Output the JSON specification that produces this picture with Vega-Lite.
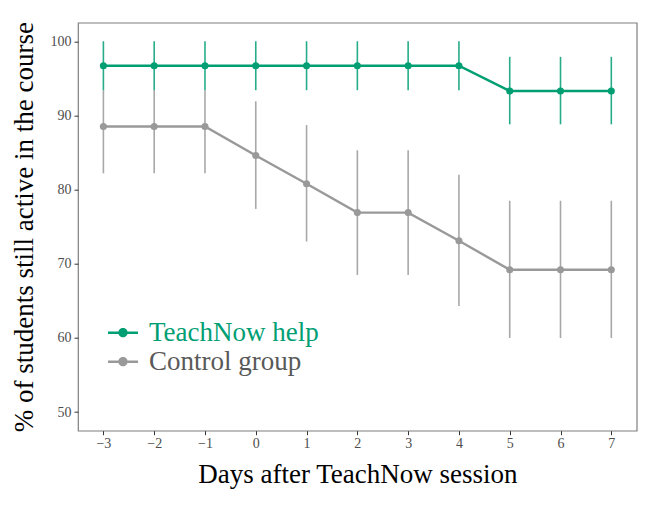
{
  "$schema": "https://vega.github.io/schema/vega-lite/v6.json",
  "width": 558.7,
  "height": 408,
  "autosize": {"type": "none"},
  "padding": {"left": 78, "top": 22.7, "right": 11.3, "bottom": 76.3},
  "background": "white",
  "config": {
    "view": {"stroke": "#7f7f7f", "strokeWidth": 1.2},
    "font": "Liberation Serif"
  },
  "data": {
    "values": [
      {"day": -3, "group": "Control group", "value": 88.5, "lo": 82.2, "hi": 93.4},
      {"day": -2, "group": "Control group", "value": 88.5, "lo": 82.2, "hi": 93.4},
      {"day": -1, "group": "Control group", "value": 88.5, "lo": 82.2, "hi": 93.4},
      {"day": 0, "group": "Control group", "value": 84.6, "lo": 77.4, "hi": 91.9},
      {"day": 1, "group": "Control group", "value": 80.8, "lo": 73.0, "hi": 88.7},
      {"day": 2, "group": "Control group", "value": 76.9, "lo": 68.5, "hi": 85.3},
      {"day": 3, "group": "Control group", "value": 76.9, "lo": 68.5, "hi": 85.3},
      {"day": 4, "group": "Control group", "value": 73.1, "lo": 64.3, "hi": 82.0},
      {"day": 5, "group": "Control group", "value": 69.2, "lo": 60.0, "hi": 78.5},
      {"day": 6, "group": "Control group", "value": 69.2, "lo": 60.0, "hi": 78.5},
      {"day": 7, "group": "Control group", "value": 69.2, "lo": 60.0, "hi": 78.5},
      {"day": -3, "group": "TeachNow help", "value": 96.7, "lo": 93.4, "hi": 100},
      {"day": -2, "group": "TeachNow help", "value": 96.7, "lo": 93.4, "hi": 100},
      {"day": -1, "group": "TeachNow help", "value": 96.7, "lo": 93.4, "hi": 100},
      {"day": 0, "group": "TeachNow help", "value": 96.7, "lo": 93.4, "hi": 100},
      {"day": 1, "group": "TeachNow help", "value": 96.7, "lo": 93.4, "hi": 100},
      {"day": 2, "group": "TeachNow help", "value": 96.7, "lo": 93.4, "hi": 100},
      {"day": 3, "group": "TeachNow help", "value": 96.7, "lo": 93.4, "hi": 100},
      {"day": 4, "group": "TeachNow help", "value": 96.7, "lo": 93.4, "hi": 100},
      {"day": 5, "group": "TeachNow help", "value": 93.3, "lo": 88.8, "hi": 97.9},
      {"day": 6, "group": "TeachNow help", "value": 93.3, "lo": 88.8, "hi": 97.9},
      {"day": 7, "group": "TeachNow help", "value": 93.3, "lo": 88.8, "hi": 97.9}
    ]
  },
  "encoding": {
    "x": {
      "field": "day",
      "type": "quantitative",
      "scale": {"domain": [-3.5, 7.5], "nice": false, "zero": false},
      "axis": {
        "values": [-3, -2, -1, 0, 1, 2, 3, 4, 5, 6, 7],
        "title": "Days after TeachNow session",
        "grid": false,
        "domain": false,
        "tickColor": "#333333",
        "tickSize": 4,
        "tickWidth": 1,
        "labelFont": "Liberation Serif",
        "labelFontSize": 14,
        "labelColor": "#4d4d4d",
        "labelPadding": 2,
        "titleFont": "Liberation Serif",
        "titleFontSize": 27,
        "titleFontWeight": "normal",
        "titleColor": "black",
        "titlePadding": 11
      }
    },
    "color": {
      "field": "group",
      "type": "nominal",
      "scale": {"domain": ["TeachNow help", "Control group"], "range": ["#009E73", "#999999"]},
      "legend": {
        "title": null,
        "orient": "none",
        "legendX": 30,
        "legendY": 295,
        "padding": 0,
        "rowPadding": 1,
        "symbolType": "M-1,-0.085H1V0.085H-1Z M0.31,0A0.31,0.31 0 1,1 -0.31,0A0.31,0.31 0 1,1 0.31,0Z",
        "symbolSize": 900,
        "symbolStrokeWidth": 0,
        "labelFont": "Liberation Serif",
        "labelFontSize": 27,
        "labelLimit": 0,
        "labelOffset": 11,
        "encode": {
          "symbols": {"update": {"fill": {"scale": "color", "field": "value"}, "strokeWidth": {"value": 0}, "opacity": {"value": 1}}},
          "labels": {"update": {"fill": {"signal": "datum.value === 'TeachNow help' ? '#009E73' : '#595959'"}}}
        }
      }
    }
  },
  "layer": [
    {
      "mark": {"type": "rule", "strokeWidth": 1.6, "opacity": 0.85},
      "encoding": {
        "y": {
          "field": "lo",
          "type": "quantitative",
          "title": "% of students still active in the course",
          "scale": {"domain": [47.5, 102.5], "nice": false, "zero": false}
        },
        "y2": {"field": "hi"}
      }
    },
    {
      "mark": {"type": "line", "strokeWidth": 2.4},
      "encoding": {
        "y": {
          "field": "value",
          "type": "quantitative",
          "title": "% of students still active in the course",
          "scale": {"domain": [47.5, 102.5], "nice": false, "zero": false},
          "axis": {
            "values": [50, 60, 70, 80, 90, 100],
            "grid": false,
            "domain": false,
            "tickColor": "#333333",
            "tickSize": 4,
            "tickWidth": 1,
            "labelFont": "Liberation Serif",
            "labelFontSize": 14,
            "labelColor": "#4d4d4d",
            "labelPadding": 3,
            "titleFont": "Liberation Serif",
            "titleFontSize": 27,
            "titleFontWeight": "normal",
            "titleColor": "black",
            "titlePadding": 12
          }
        }
      }
    },
    {
      "mark": {"type": "point", "filled": true, "size": 50, "opacity": 1},
      "encoding": {
        "y": {
          "field": "value",
          "type": "quantitative",
          "title": "% of students still active in the course",
          "scale": {"domain": [47.5, 102.5], "nice": false, "zero": false}
        }
      }
    }
  ]
}
